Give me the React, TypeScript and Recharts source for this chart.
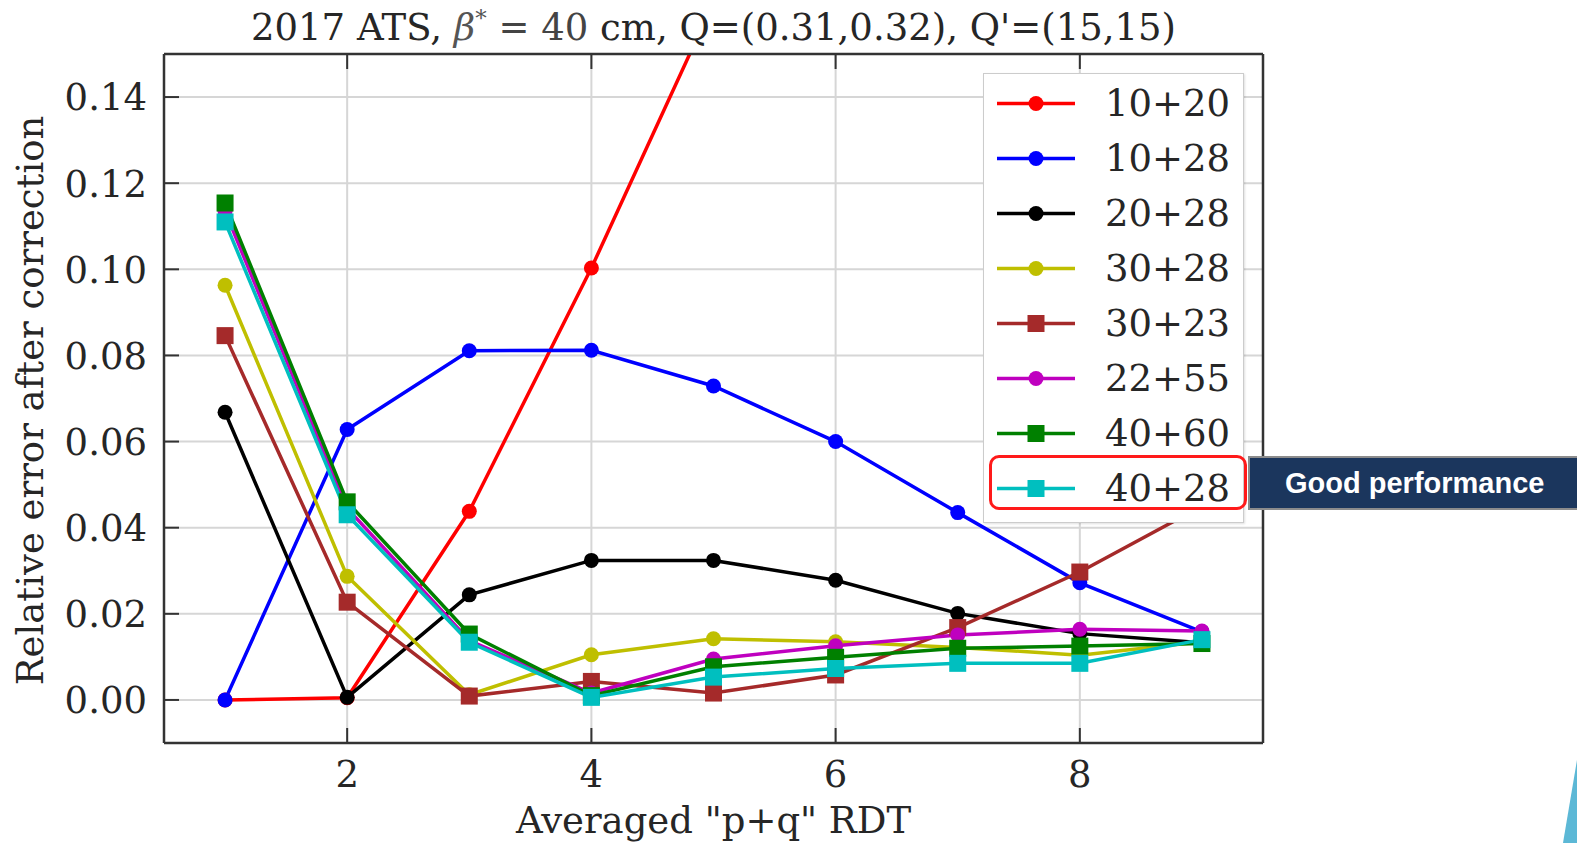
import { CartesianGrid, Legend, Line, LineChart, XAxis, YAxis } from "recharts";

// x positions of the RDT groups
const X_VALUES = [1, 2, 3, 4, 5, 6, 7, 8, 9];

// relative error after correction, one array per corrector pair
const ERR_10_20 = [0.0, 0.0005, 0.0438, 0.1003, 0.162, 0.22, 0.27, 0.31, 0.34];
const ERR_10_28 = [0.0, 0.0628, 0.0811, 0.0812, 0.0729, 0.06, 0.0435, 0.0272, 0.0158];
const ERR_20_28 = [0.0668, 0.0006, 0.0244, 0.0324, 0.0324, 0.0278, 0.0201, 0.0154, 0.0133];
const ERR_30_28 = [0.0963, 0.0287, 0.0012, 0.0105, 0.0142, 0.0135, 0.0122, 0.0104, 0.0135];
const ERR_30_23 = [0.0846, 0.0227, 0.0009, 0.0043, 0.0016, 0.0058, 0.0168, 0.0297, 0.045];
const ERR_22_55 = [0.1135, 0.0445, 0.0138, 0.0016, 0.0095, 0.0126, 0.0151, 0.0164, 0.016];
const ERR_40_60 = [0.1154, 0.046, 0.0153, 0.001, 0.0077, 0.0099, 0.012, 0.0125, 0.0131];
const ERR_40_28 = [0.111, 0.043, 0.0134, 0.0006, 0.0053, 0.0073, 0.0085, 0.0085, 0.014];

const X_TICKS = [2, 4, 6, 8];
const Y_TICKS = [0, 0.02, 0.04, 0.06, 0.08, 0.1, 0.12, 0.14];

const SERIES = [
  { key: "e1020", name: "10+20", color: "#ff0000", marker: "circle", values: ERR_10_20 },
  { key: "e1028", name: "10+28", color: "#0000ff", marker: "circle", values: ERR_10_28 },
  { key: "e2028", name: "20+28", color: "#000000", marker: "circle", values: ERR_20_28 },
  { key: "e3028", name: "30+28", color: "#bfbf00", marker: "circle", values: ERR_30_28 },
  { key: "e3023", name: "30+23", color: "#a52a2a", marker: "square", values: ERR_30_23 },
  { key: "e2255", name: "22+55", color: "#bf00bf", marker: "circle", values: ERR_22_55 },
  { key: "e4060", name: "40+60", color: "#008000", marker: "square", values: ERR_40_60 },
  { key: "e4028", name: "40+28", color: "#00bfbf", marker: "square", values: ERR_40_28 },
];

const data = X_VALUES.map((x, i) => {
  const row: Record<string, number> = { x };
  SERIES.forEach((s) => (row[s.key] = s.values[i]));
  return row;
});

const FONT = "'DejaVu Serif', serif";
const INK = "#262626";
const FRAME = "#333333";
const TICK_LEN = 15;
const LABEL_GAP = 17;
const LINE_W = 3.5;

// matplotlib-ish inward ticks: the library puts the label anchor LABEL_GAP
// away from the frame, so the tick line is drawn back from there.
function LeftTick({ x, y, payload }: any) {
  return (
    <g>
      <line x1={x + LABEL_GAP} x2={x + LABEL_GAP + TICK_LEN} y1={y} y2={y} stroke={FRAME} strokeWidth={2} />
      <text x={x} y={y} dy="0.36em" textAnchor="end" fontFamily={FONT} fontSize={37} fill={INK}>
        {payload.value.toFixed(2)}
      </text>
    </g>
  );
}

function BottomTick({ x, y, payload }: any) {
  return (
    <g>
      <line x1={x} x2={x} y1={y - LABEL_GAP} y2={y - LABEL_GAP - TICK_LEN} stroke={FRAME} strokeWidth={2} />
      <text x={x} y={y} dy="0.73em" textAnchor="middle" fontFamily={FONT} fontSize={37} fill={INK}>
        {payload.value}
      </text>
    </g>
  );
}

function RightTick({ x, y }: any) {
  return <line x1={x - TICK_LEN} x2={x} y1={y} y2={y} stroke={FRAME} strokeWidth={2} />;
}

function TopTick({ x, y }: any) {
  return <line x1={x} x2={x} y1={y} y2={y + TICK_LEN} stroke={FRAME} strokeWidth={2} />;
}

function Title(props: any) {
  const vb = props.viewBox;
  return (
    <text x={vb.x + vb.width / 2} y={vb.y - 13} textAnchor="middle" fontFamily={FONT} fontSize={37} fill={INK}>
      2017 ATS,{" "}
      <tspan fontStyle="italic" fill="#555">β</tspan>
      <tspan fontSize={23} dy={-14} fill="#555">*</tspan>
      <tspan dy={14} fill="#444"> = 40</tspan> cm, Q=(0.31,0.32), Q'=(15,15)
    </text>
  );
}

function XTitle(props: any) {
  const vb = props.viewBox;
  return (
    <text x={vb.x + vb.width / 2} y={833} textAnchor="middle" fontFamily={FONT} fontSize={37} fill={INK}>
      Averaged "p+q" RDT
    </text>
  );
}

function YTitle(props: any) {
  const vb = props.viewBox;
  const cy = vb.y + vb.height / 2 + 2;
  return (
    <text
      x={30}
      y={cy}
      transform={`rotate(-90 30 ${cy})`}
      textAnchor="middle"
      dominantBaseline="central"
      fontFamily={FONT}
      fontSize={37}
      fill={INK}
    >
      Relative error after correction
    </text>
  );
}

function Marker({ cx, cy, color, marker }: { cx: number; cy: number; color: string; marker: string }) {
  if (marker === "square") return <rect x={cx - 8.5} y={cy - 8.5} width={17} height={17} fill={color} />;
  return <circle cx={cx} cy={cy} r={7.5} fill={color} />;
}

function LegendBox() {
  return (
    <div
      style={{
        width: 259,
        height: 446,
        background: "#fff",
        border: "1px solid #cccccc",
        boxShadow: "1px 1px 2px rgba(0,0,0,0.12)",
        paddingTop: 2,
        boxSizing: "content-box",
      }}
    >
      {SERIES.map((s) => (
        <div key={s.key} style={{ position: "relative", height: 55 }}>
          <svg width={100} height={55} style={{ position: "absolute", left: 0, top: 0 }}>
            <line x1={13} x2={91} y1={27.5} y2={27.5} stroke={s.color} strokeWidth={LINE_W} />
            <Marker cx={52} cy={27.5} color={s.color} marker={s.marker} />
          </svg>
          <span
            style={{
              position: "absolute",
              left: 121,
              top: 0,
              lineHeight: "55px",
              fontFamily: FONT,
              fontSize: 37,
              color: INK,
            }}
          >
            {s.name}
          </span>
        </div>
      ))}
    </div>
  );
}

export default function App() {
  return (
    <div
      style={{
        position: "fixed",
        left: 0,
        top: 0,
        width: 1577,
        height: 843,
        background: "#fff",
        overflow: "hidden",
      }}
    >
      <LineChart width={1577} height={843} data={data} margin={{ top: 53, right: 313, bottom: 0, left: 0 }}>
        <CartesianGrid stroke="#d6d6d6" strokeWidth={2} />
        <XAxis
          dataKey="x"
          type="number"
          domain={[0.5, 9.5]}
          ticks={X_TICKS}
          allowDataOverflow
          height={100}
          tickSize={0}
          tickLine={false}
          tickMargin={LABEL_GAP}
          tick={BottomTick}
          axisLine={{ stroke: FRAME, strokeWidth: 2.5 }}
          label={XTitle}
        />
        <XAxis
          xAxisId="top"
          orientation="top"
          dataKey="x"
          type="number"
          domain={[0.5, 9.5]}
          ticks={X_TICKS}
          height={1}
          tickSize={0}
          tickLine={false}
          tickMargin={0}
          tick={TopTick}
          axisLine={{ stroke: FRAME, strokeWidth: 2.5 }}
          label={Title}
        />
        <YAxis
          type="number"
          domain={[-0.01, 0.15]}
          ticks={Y_TICKS}
          allowDataOverflow
          width={164}
          tickSize={0}
          tickLine={false}
          tickMargin={LABEL_GAP}
          tick={LeftTick}
          axisLine={{ stroke: FRAME, strokeWidth: 2.5 }}
          label={YTitle}
        />
        <YAxis
          yAxisId="right"
          orientation="right"
          type="number"
          domain={[-0.01, 0.15]}
          ticks={Y_TICKS}
          width={1}
          tickSize={0}
          tickLine={false}
          tickMargin={0}
          tick={RightTick}
          axisLine={{ stroke: FRAME, strokeWidth: 2.5 }}
        />
        <Legend
          layout="vertical"
          align="center"
          verticalAlign="middle"
          width={261}
          height={448}
          wrapperStyle={{ left: 983, top: 73 }}
          content={() => <LegendBox />}
        />
        {SERIES.map((s) => (
          <Line
            key={s.key}
            type="linear"
            dataKey={s.key}
            name={s.name}
            stroke={s.color}
            strokeWidth={LINE_W}
            dot={(p: any) => (
              <Marker key={`${s.key}-${p.index}`} cx={p.cx} cy={p.cy} color={s.color} marker={s.marker} />
            )}
            activeDot={false}
            isAnimationActive={false}
          />
        ))}
      </LineChart>

      {/* slide annotation over the legend */}
      <div
        style={{
          position: "absolute",
          left: 989,
          top: 455,
          width: 252,
          height: 49,
          border: "3px solid #ff1a1a",
          borderRadius: 10,
        }}
      />
      <div
        style={{
          position: "absolute",
          left: 1248,
          top: 456,
          width: 340,
          height: 50,
          background: "#1b365d",
          border: "2px solid #8c8c8c",
          color: "#fff",
          fontFamily: "'Liberation Sans', Arial, sans-serif",
          fontWeight: 700,
          fontSize: 29,
          lineHeight: "50px",
          paddingLeft: 35,
          boxSizing: "content-box",
        }}
      >
        Good performance
      </div>
      <svg width={1577} height={843} style={{ position: "absolute", left: 0, top: 0, pointerEvents: "none" }}>
        <polygon points="1577,760 1577,843 1563,843" fill="#5cb8d6" />
      </svg>
    </div>
  );
}
